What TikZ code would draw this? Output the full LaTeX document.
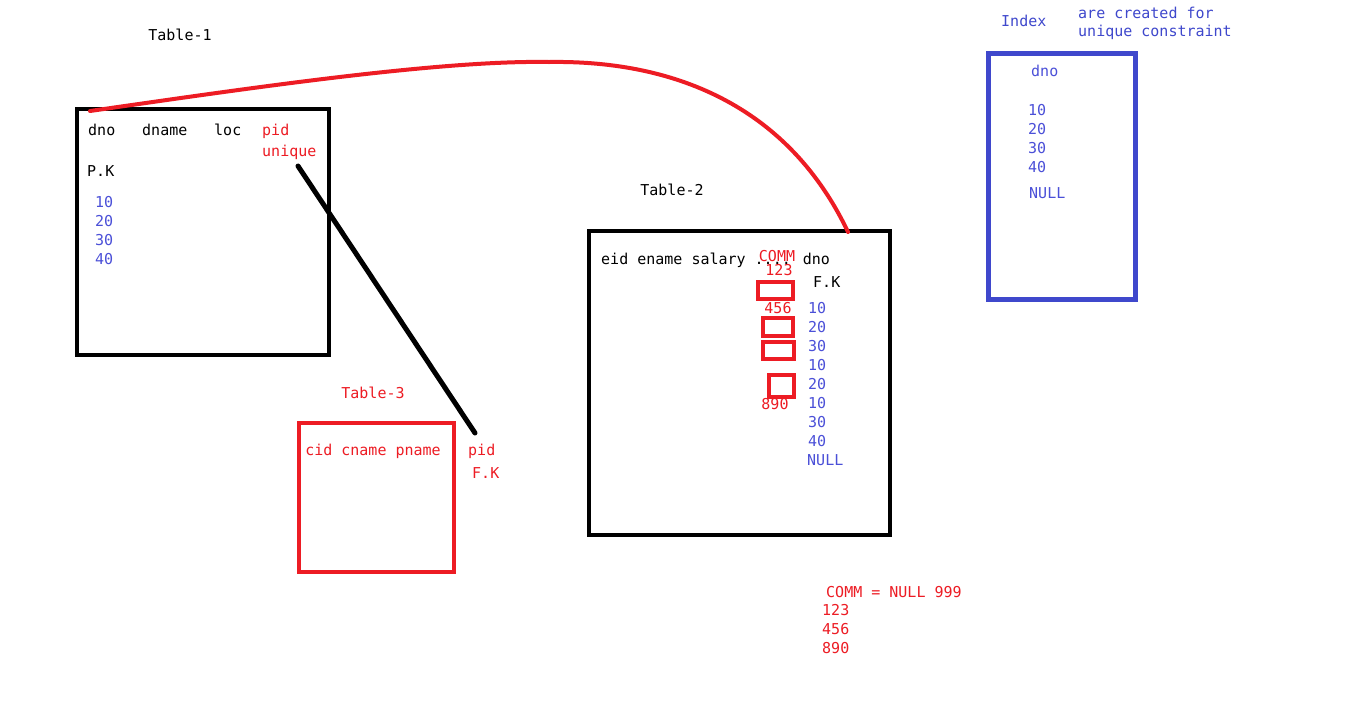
\documentclass[tikz,border=0pt]{standalone}
\usepackage{fontspec}
\setmainfont{DejaVu Sans Mono}
\definecolor{pred}{HTML}{ED1C24}
\definecolor{pblue}{HTML}{3F48CC}
\definecolor{tblue}{HTML}{4B50D8}
\begin{document}
\begin{tikzpicture}[x=1pt,y=-1pt,
  txt/.style={inner sep=0pt,anchor=west,font=\fontsize{15}{17}\selectfont},
  ctxt/.style={inner sep=0pt,font=\fontsize{15}{17}\selectfont},
  tbox/.style={draw=black,line width=4pt},
  rbox/.style={draw=pred,line width=4pt},
  bbox/.style={draw=pblue,line width=5pt}]
\useasboundingbox[fill=white] (0,0) rectangle (1355,716);
% Table-1
\node[ctxt] (t1lbl) at (180,35) {Table-1};
\draw[tbox] (77,109) rectangle (329,355);
\node[txt] (t1dno) at (88,130) {dno};
\node[txt] (t1dname) at (142,130) {dname};
\node[txt] (t1loc) at (214,130) {loc};
\node[txt,text=pred] (t1pid) at (262,131) {pid};
\node[txt,text=pred] (t1uniq) at (262,152) {unique};
\node[txt] (t1pk) at (87,171) {P.K};
\node[txt,text=tblue] (t1v1) at (95,202) {10};
\node[txt,text=tblue] (t1v2) at (95,221) {20};
\node[txt,text=tblue] (t1v3) at (95,240) {30};
\node[txt,text=tblue] (t1v4) at (95,259) {40};
% Table-2
\node[ctxt] (t2lbl) at (672,190) {Table-2};
\draw[tbox] (589,231) rectangle (890,535);
\node[txt] (t2head) at (601,260) {eid ename salary .... dno};
\node[ctxt,text=pred] (t2comm) at (777,256) {COMM};
\node[ctxt,text=pred] (t2c1) at (779,270) {123};
\node[ctxt,text=pred] (t2c2) at (778,308) {456};
\node[ctxt,text=pred] (t2c3) at (775,404) {890};
\draw[rbox] (758,282) rectangle (793,299);
\draw[rbox] (763,318) rectangle (793,336);
\draw[rbox] (763,342) rectangle (794,359);
\draw[rbox] (769,375) rectangle (794,397);
\node[txt] (t2fk) at (813,282) {F.K};
\foreach \v/\y [count=\i] in {10/308,20/327,30/346,10/365,20/384,10/403,30/422,40/441}
  \node[txt,text=tblue] (t2v\i) at (808,\y) {\v};
\node[txt,text=tblue] (t2null) at (807,460) {NULL};
% Table-3
\node[ctxt,text=pred] (t3lbl) at (373,393) {Table-3};
\draw[rbox] (299,423) rectangle (454,572);
\node[ctxt,text=pred] (t3head) at (373,451) {cid cname pname};
\node[txt,text=pred] (t3pid) at (468,451) {pid};
\node[txt,text=pred] (t3fk) at (472,473) {F.K};
% Index
\node[txt,text=pblue] (ixlbl) at (1001,21) {Index};
\node[txt,text=pblue] (ixn1) at (1078,13) {are created for};
\node[txt,text=pblue] (ixn2) at (1078,32) {unique constraint};
\draw[bbox] (988,53) rectangle (1135,299);
\node[txt,text=tblue] (ixdno) at (1031,71) {dno};
\node[txt,text=tblue] (ixv1) at (1028,110) {10};
\node[txt,text=tblue] (ixv2) at (1028,129) {20};
\node[txt,text=tblue] (ixv3) at (1028,148) {30};
\node[txt,text=tblue] (ixv4) at (1028,167) {40};
\node[txt,text=tblue] (ixnull) at (1029,193) {NULL};
% bottom note
\node[txt,text=pred] (bn0) at (826,592) {COMM = NULL 999};
\node[txt,text=pred] (bn1) at (822,610) {123};
\node[txt,text=pred] (bn2) at (822,629) {456};
\node[txt,text=pred] (bn3) at (822,648) {890};
% connectors
\coordinate (rs) at (90,111);
\coordinate (rp) at (549,62);
\coordinate (re) at (848,232);
\draw[pred,line width=4pt,line cap=round] (rs) .. controls (250,88) and (440,60) .. (rp)
   .. controls (680,60) and (790,110) .. (re);
\coordinate (bs) at (298,166);
\coordinate (be) at (475,433);
\draw[black,line width=5pt,line cap=round] (bs) -- (be);
\end{tikzpicture}
\end{document}
